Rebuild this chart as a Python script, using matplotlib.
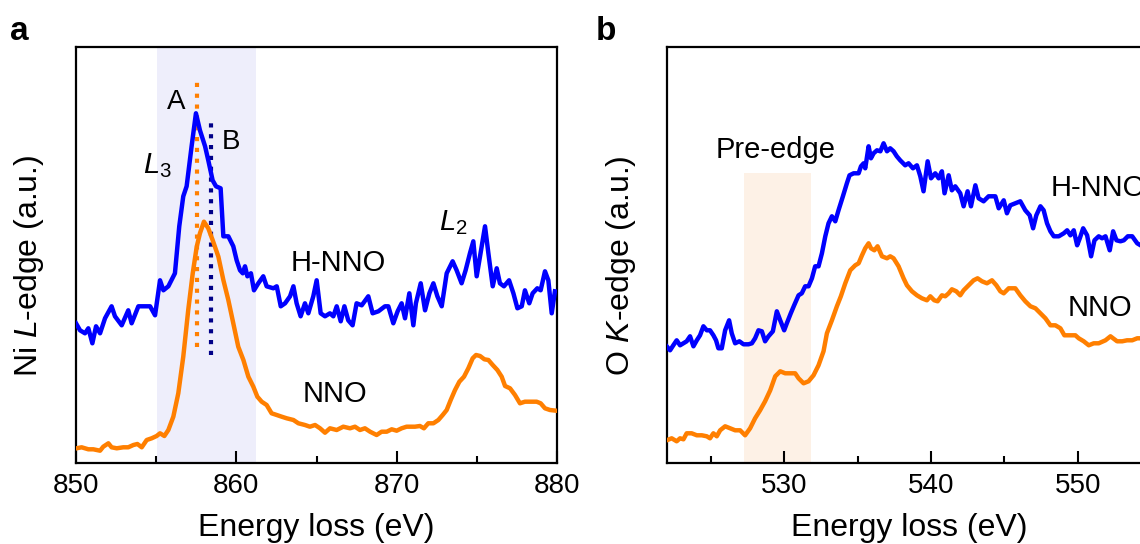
import matplotlib
matplotlib.use("Agg")
import matplotlib.pyplot as plt

plt.rcParams['font.family'] = ['Liberation Sans', 'DejaVu Sans']
plt.rcParams['mathtext.fontset'] = 'custom'
plt.rcParams['mathtext.rm'] = 'Liberation Sans'
plt.rcParams['mathtext.it'] = 'Liberation Sans:italic'

BLUE = '#0000ff'
ORANGE = '#ff7f00'
NAVY = '#000088'

# --- Ni L-edge, H-NNO ---
ni_e_hnno = [850.0, 850.25, 850.56, 850.77, 851.02, 851.25, 851.5, 851.81, 852.22, 852.43,
             852.85, 853.26, 853.47, 853.89, 854.3, 854.62, 854.93, 855.24, 855.45, 855.76,
             856.17, 856.44, 856.69, 856.9, 857.21, 857.48, 857.73, 858.05, 858.25, 858.52,
             858.73, 859.02, 859.19, 859.5, 859.81, 860.02, 860.23, 860.4, 860.54, 860.69,
             860.91, 861.1, 861.37, 861.68, 861.89, 862.31, 862.52, 862.77, 863.04, 863.35,
             863.56, 863.76, 864.01,
             864.28, 864.49, 864.8, 865.01, 865.26, 865.53, 865.84, 866.05, 866.26, 866.51,
             866.74, 866.98, 867.25, 867.5, 867.82, 868.23, 868.5, 868.86, 869.27, 869.48,
             869.79, 870.06, 870.31, 870.52, 870.79, 871.04, 871.2, 871.5, 871.77, 872.04,
             872.29, 872.54, 872.81, 873.12, 873.49, 873.74, 874.05, 874.3, 874.57, 874.78,
             874.99, 875.2, 875.51, 875.72, 875.99, 876.24, 876.44, 876.69, 877.01, 877.28,
             877.53, 877.8, 878.0, 878.27, 878.48, 878.77, 878.98, 879.25, 879.46, 879.67,
             879.87]
ni_i_hnno = [140, 133, 130, 135, 120, 137, 130, 145, 157, 147,
             138, 153, 140, 157, 157, 157, 148, 183, 173, 177,
             190, 237, 267, 277, 317, 350, 333, 317, 303, 283,
             277, 275, 227, 227, 217, 203, 193, 190, 197, 187,
             190, 173, 180, 187, 177, 175, 177, 157, 160, 167,
             177, 160, 147,
             160, 150, 167, 183, 150, 147, 150, 147, 157, 142,
             157, 143, 138, 160, 158, 167, 150, 152, 157, 157,
             140, 152, 160, 145, 170, 138, 160, 180, 153, 170,
             180, 167, 157, 190, 202, 193, 180, 193, 210, 222,
             187, 207, 237, 210, 177, 195, 180, 177, 183, 170,
             155, 157, 173, 160, 170, 175, 173, 192, 183, 150,
             172]

# --- Ni L-edge, NNO ---
ni_e_nno = [850.04, 850.35, 850.77, 851.08, 851.5, 851.7, 852.02, 852.22, 852.54, 852.95,
            853.26, 853.58, 853.83, 854.1, 854.41, 854.72, 855.03, 855.24, 855.51, 855.76,
            856.07, 856.38, 856.69, 857.0, 857.28, 857.53, 857.73, 857.98, 858.25, 858.52,
            858.88, 859.19, 859.5, 859.81, 860.12, 860.44, 860.75, 861.06, 861.31, 861.58,
            861.89, 862.2, 862.52, 862.83, 863.14, 863.56, 863.87,
            864.28, 864.59, 864.91, 865.22, 865.53, 865.84, 866.26, 866.67, 867.09, 867.4,
            867.71, 868.02, 868.34, 868.75, 869.06, 869.38, 869.69, 870.0, 870.31, 870.62,
            871.14, 871.45, 871.7, 871.97, 872.29, 872.6, 872.87, 873.12, 873.37, 873.64,
            873.91, 874.2, 874.47, 874.74, 874.95, 875.2, 875.47, 875.72, 875.99, 876.28,
            876.55, 876.76, 877.07, 877.38, 877.69, 878.0, 878.31, 878.73, 878.98, 879.25,
            879.56, 879.94]
ni_i_nno = [15, 16, 14, 14, 12.6, 16.6, 20, 16, 15, 16,
            16, 18.3, 19.3, 16, 23.3, 25, 27.3, 30, 27.3, 33.3,
            46.6, 70, 106.6, 153.3, 190, 216.6, 230, 241.6, 235, 223.3,
            206.6, 183.3, 163.3, 140, 116.6, 103.3, 86.6, 76.6, 66.6, 61.6,
            58.3, 50, 48.3, 46.6, 45, 43.3, 40,
            38.3, 36.6, 38.3, 35, 30.6, 35, 33.3, 36.6, 35, 36.6,
            33.3, 35, 31.6, 28.3, 31.6, 31.6, 34, 32.6, 35, 36.6,
            36.6, 37.3, 35, 40, 40, 43.3, 48.3, 53.3, 63.3, 73.3,
            81.6, 86.6, 95, 105, 108.3, 107.3, 104, 103.3, 98.3, 93.3,
            86.6, 77.3, 75, 68.3, 60, 61.6, 61.6, 61.6, 60, 55,
            53.3, 52.6]

# peak positions A (NNO) and B (H-NNO) with the spans of the guide lines
peak_a = 857.57
peak_a_span = (116.6, 385)
peak_b = 858.4
peak_b_span = (108.3, 346.6)
l3_band = (855.05, 861.2)

# --- O K-edge, H-NNO ---
o_e_hnno = [522.0, 522.23, 522.45, 522.68, 522.91, 523.14, 523.36, 523.59, 523.82, 524.05,
            524.27, 524.5, 524.73, 524.95, 525.18, 525.36, 525.52, 525.75, 525.98, 526.25,
            526.43, 526.66, 526.95, 527.23, 527.57, 527.8, 528.02, 528.25, 528.48, 528.7,
            528.93, 529.23, 529.5, 529.73, 530.0, 530.18, 530.45, 530.68, 530.98, 531.2,
            531.43, 531.66, 531.89, 532.11, 532.34, 532.57, 532.8, 533.02, 533.25, 533.48,
            533.7, 534.0, 534.27, 534.45, 534.73, 535.07, 535.23, 535.41, 535.52, 535.75,
            535.91, 536.09, 536.32, 536.55, 536.77, 537.0,
            537.22, 537.45, 537.67, 537.9, 538.24, 538.47, 538.77, 539.04, 539.27, 539.49,
            539.77, 540.0, 540.29, 540.52, 540.74, 540.92, 541.2, 541.42, 541.65, 541.99,
            542.22, 542.49, 542.72, 543.02, 543.24, 543.58, 543.92, 544.38, 544.61, 544.95,
            545.17, 545.4, 545.74, 546.08, 546.42, 546.72, 546.95, 547.17, 547.45, 547.67,
            547.9, 548.13, 548.36, 548.7, 549.04, 549.27, 549.49, 549.72, 549.95, 550.13,
            550.36, 550.63, 550.9, 551.13, 551.42, 551.65, 551.88, 552.17, 552.4, 552.63,
            552.9, 553.13, 553.4, 553.7, 554.04, 554.27]
o_i_hnno = [117, 113, 118, 123, 118, 120, 122, 127, 117, 123,
            128, 137, 133, 133, 128, 123, 115, 115, 133, 143,
            130, 120, 122, 119, 119, 120, 125, 133, 132, 122,
            127, 132, 152, 143, 133, 140, 150, 158, 168, 170,
            177, 177, 185, 197, 197, 210, 227, 240, 247, 242,
            253, 267, 280, 288, 290, 290, 297, 300, 295, 317,
            305, 310, 313, 312, 320, 312,
            315, 312, 307, 303, 298, 300, 295, 298, 287, 272,
            302, 285, 290, 285, 292, 270, 288, 273, 277, 270,
            257, 272, 257, 278, 265, 262, 267, 267, 255, 263,
            250, 258, 260, 262, 253, 248, 235, 248, 257, 253,
            240, 232, 227, 227, 230, 233, 228, 233, 218, 225,
            235, 228, 207, 223, 227, 225, 227, 213, 232, 223,
            222, 223, 227, 227, 220, 218]

# --- O K-edge, NNO ---
o_e_nno = [522.0, 522.34, 522.68, 522.91, 523.14, 523.36, 523.7, 524.05, 524.39, 524.73,
           524.95, 525.18, 525.41, 525.64, 525.98, 526.32, 526.66, 527.0, 527.34, 527.68,
           528.02, 528.36, 528.7, 529.05, 529.39, 529.73, 530.07, 530.41, 530.75, 530.98,
           531.32, 531.66, 532.0, 532.34, 532.68, 532.91, 533.25, 533.59, 533.86, 534.16,
           534.5, 534.84, 535.07, 535.3, 535.52, 535.75, 535.91, 536.14, 536.36, 536.66,
           537.0,
           537.22, 537.45, 537.79, 538.13, 538.36, 538.7, 539.04, 539.38, 539.72, 539.95,
           540.22, 540.45, 540.74, 540.97, 541.2, 541.42, 541.72, 541.99, 542.22, 542.56,
           542.9, 543.17, 543.47, 543.81, 544.15, 544.45, 544.72, 544.95, 545.29, 545.74,
           546.08, 546.42, 546.77, 547.11, 547.45, 547.79, 548.13, 548.47, 548.81, 549.08,
           549.49, 549.83, 550.06, 550.4, 550.74, 551.08, 551.42, 551.88, 552.22, 552.4,
           552.67, 553.02, 553.35, 553.7, 554.04, 554.27]
o_i_nno = [23, 25, 22, 25, 24, 30, 30, 28, 28, 27,
           25, 30, 27, 33, 37, 35, 33, 33, 28, 35,
           45, 53, 62, 73, 87, 92, 90, 90, 90, 85,
           80, 82, 88, 98, 112, 130, 143, 157, 167, 180,
           193, 198, 200, 208, 215, 220, 215, 213, 217, 207,
           205,
           207, 205, 197, 185, 178, 172, 168, 165, 163, 167,
           163, 162, 168, 167, 170, 174, 172, 168, 173, 178,
           183, 185, 182, 180, 183, 178, 172, 170, 175, 175,
           168, 162, 157, 155, 150, 145, 138, 138, 135, 128,
           128, 128, 125, 122, 118, 120, 120, 123, 127, 125,
           122, 122, 123, 123, 125, 125]

pre_edge = (527.27, 531.82)
pre_edge_top = 290

YMAX = 416
fig = plt.figure(figsize=(11.4, 5.44), dpi=100)
ax1 = fig.add_axes([0.06667, 0.14835, 0.42193, 0.76471])
ax2 = fig.add_axes([0.58482, 0.14835, 0.42509, 0.76471])


def style(ax, xlim, major, minor):
    ax.set_xlim(*xlim)
    ax.set_ylim(0, YMAX)
    ax.set_xticks(major)
    ax.set_xticks(minor, minor=True)
    ax.set_yticks([])
    ax.tick_params(axis='x', which='major', direction='in', length=9, width=1.5,
                   labelsize=20, pad=7)
    ax.tick_params(axis='x', which='minor', direction='in', length=5, width=1.5)
    for s in ax.spines.values():
        s.set_linewidth(1.6)
    ax.text(0.5, -0.175, 'Energy loss (eV)', transform=ax.transAxes,
            ha='center', va='baseline', fontsize=23)


# panel a
ax1.axvspan(*l3_band, color='#eeeefb', lw=0, zorder=0)
ax1.plot([peak_a, peak_a], peak_a_span, color=ORANGE, lw=3,
         dashes=(1.0, 1.6), dash_capstyle='butt', zorder=2)
ax1.plot([peak_b, peak_b], peak_b_span, color=NAVY, lw=3,
         dashes=(1.0, 1.6), dash_capstyle='butt', zorder=2)
ax1.plot(ni_e_nno, ni_i_nno, color=ORANGE, lw=3.2, zorder=3)
ax1.plot(ni_e_hnno, ni_i_hnno, color=BLUE, lw=3.2, zorder=3)
style(ax1, (850, 880), [850, 860, 870, 880], [855, 865, 875])
ax1.text(-0.0977, 0.474, 'Ni $L$-edge (a.u.)', transform=ax1.transAxes,
         rotation=90, ha='center', va='center', fontsize=23)
ax1.text(856.26, 361.6, 'A', ha='center', va='center', fontsize=20)
ax1.text(859.67, 320.8, 'B', ha='center', va='center', fontsize=20)
ax1.text(854.16, 290, '$L_3$', ha='left', va='baseline', fontsize=21)
ax1.text(872.67, 233.3, '$L_2$', ha='left', va='baseline', fontsize=21)
ax1.text(866.38, 200.3, 'H-NNO', ha='center', va='center', fontsize=21)
ax1.text(866.16, 69.3, 'NNO', ha='center', va='center', fontsize=21)

# panel b
ax2.fill_between(pre_edge, 0, pre_edge_top, color='#fdf1e6', lw=0, zorder=0)
ax2.plot(o_e_nno, o_i_nno, color=ORANGE, lw=3.2, zorder=3)
ax2.plot(o_e_hnno, o_i_hnno, color=BLUE, lw=3.2, zorder=3)
style(ax2, (522, 555), [530, 540, 550], [525, 535, 545])
ax2.text(-0.0942, 0.474, 'O $K$-edge (a.u.)', transform=ax2.transAxes,
         rotation=90, ha='center', va='center', fontsize=23)
ax2.text(529.44, 305, 'Pre-edge', ha='center', va='baseline', fontsize=21)
ax2.text(548.13, 275, 'H-NNO', ha='left', va='center', fontsize=21)
ax2.text(551.48, 155, 'NNO', ha='center', va='center', fontsize=21)

fig.text(10 / 1140, 1 - 40 / 544, 'a', fontsize=24, fontweight='bold', va='baseline')
fig.text(596 / 1140, 1 - 40 / 544, 'b', fontsize=24, fontweight='bold', va='baseline')

fig.savefig('out.png', dpi=100)
